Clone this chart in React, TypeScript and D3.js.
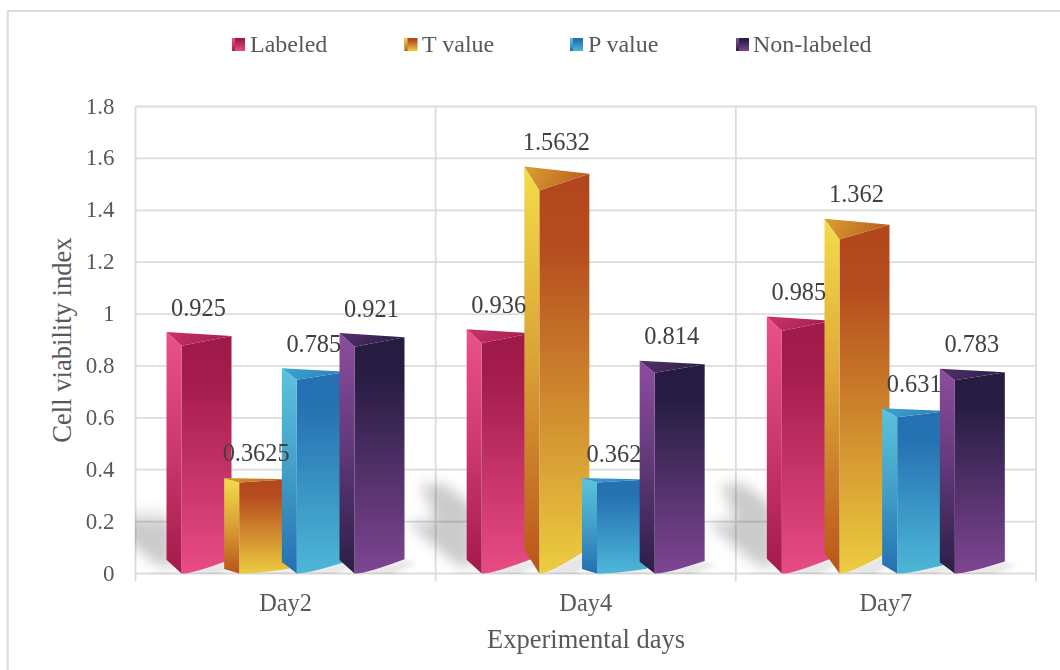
import React from "react";
import * as d3 from "d3";

// Chart values
const days = ["Day2", "Day4", "Day7"];
const seriesNames = ["Labeled", "T value", "P value", "Non-labeled"];
const labeled = [0.925, 0.936, 0.985];
const tValue = [0.3625, 1.5632, 1.362];
const pValue = [0.785, 0.362, 0.631];
const nonLabeled = [0.921, 0.814, 0.783];
const seriesValues = [labeled, tValue, pValue, nonLabeled];
const yTicks = [0, 0.2, 0.4, 0.6, 0.8, 1, 1.2, 1.4, 1.6, 1.8];

// Face shading per series
const palettes = [
  { front: ["#a01a49", "#a31c4b", "#e84c84"], side: ["#ea5289", "#a5194b"], top: ["#c8336c", "#a51f50"] },
  { front: ["#b2461d", "#b54c1f", "#eccd40"], side: ["#f3dd4a", "#b9541a"], top: ["#dca032", "#b8601f"] },
  { front: ["#2470b0", "#2672b2", "#4db7d8"], side: ["#5ac4dc", "#2570b0"], top: ["#3fa6d2", "#2a80bc"] },
  { front: ["#261c42", "#281e44", "#7f4592"], side: ["#8c4d9e", "#2a1e46"], top: ["#55306f", "#2c1f47"] },
];

const W = 1060;
const H = 670;
const plot = { left: 135.5, right: 1036, top: 106.5, bottom: 573.5 };
const barWidth = 65;
const topLift = 1.5;
const serif = "'Liberation Serif', 'Times New Roman', serif";

const x = d3.scaleBand<string>().domain(days).range([plot.left, plot.right]);
const seriesX = d3.scalePoint<string>().domain(seriesNames).range([31, 204]);
const y = d3.scaleLinear().domain([0, 1.8]).range([plot.bottom, plot.top]);
// Taller bars show more of their side and top under the perspective
const depth = d3.scaleLinear().domain([0.36, 1.5632]).range([4.5, 24]);

const polygon = d3.line<[number, number]>().curve(d3.curveLinearClosed);

function frontPath(x0: number, v: number) {
  const d = depth(v);
  const top = y(v) - topLift;
  const fx = x0 + 15;
  const p = d3.path();
  p.moveTo(fx, top + d);
  p.lineTo(x0 + barWidth, top + d * 0.3);
  p.lineTo(x0 + barWidth, plot.bottom - d * 1.05);
  p.quadraticCurveTo(fx + 9, plot.bottom + 1, fx, plot.bottom);
  p.closePath();
  return p.toString();
}

function Swatch({ cx, idx }: { cx: number; idx: number }) {
  return (
    <g>
      <rect x={cx} y={38} width={13} height={13} fill={`url(#front${idx})`} />
      <rect x={cx} y={38} width={3} height={13} fill={`url(#side${idx})`} />
    </g>
  );
}

const legendSwatchX = [232, 404.5, 570, 736];
const legendTextX = [250, 422, 588, 753];

export default function App() {
  const gridColor = "#dcdcdc";
  const starts = days.map((d) => x(d)! + seriesX(seriesNames[0])!);
  return (
    <svg
      width={W}
      height={H}
      viewBox={`0 0 ${W} ${H}`}
      style={{ position: "absolute", left: 0, top: 0, display: "block", background: "#fff" }}
    >
      <defs>
        {palettes.map((p, i) => (
          <React.Fragment key={i}>
            <linearGradient id={`front${i}`} x1="0" y1="0" x2="0" y2="1">
              <stop offset="0" stopColor={p.front[0]} />
              <stop offset="0.18" stopColor={p.front[1]} />
              <stop offset="1" stopColor={p.front[2]} />
            </linearGradient>
            <linearGradient id={`side${i}`} x1="0" y1="0" x2="0" y2="1">
              <stop offset="0" stopColor={p.side[0]} />
              <stop offset="0.45" stopColor={d3.interpolateRgb(p.side[0], p.side[1])(0.4)} />
              <stop offset="1" stopColor={p.side[1]} />
            </linearGradient>
            <linearGradient id={`top${i}`} x1="0" y1="0" x2="1" y2="0.2">
              <stop offset="0" stopColor={p.top[0]} />
              <stop offset="1" stopColor={p.top[1]} />
            </linearGradient>
          </React.Fragment>
        ))}
        <filter id="softShadow" x="-40%" y="-40%" width="180%" height="180%">
          <feGaussianBlur stdDeviation="6.5" />
        </filter>
        <filter id="floorShadow" x="-40%" y="-60%" width="180%" height="220%">
          <feGaussianBlur stdDeviation="2.5" />
        </filter>
        <clipPath id="plotClip">
          <rect x={plot.left} y={plot.top} width={plot.right - plot.left} height={plot.bottom - plot.top} />
        </clipPath>
      </defs>

      {/* Outer frame */}
      <path d={`M7.8 ${H}V11H${W}`} fill="none" stroke="#dcdcdc" strokeWidth={2} />

      {/* Grid */}
      {yTicks.map((t) => (
        <line key={t} x1={plot.left} x2={plot.right} y1={y(t)} y2={y(t)} stroke={gridColor} strokeWidth={1.8} />
      ))}
      {[...days.map((d) => x(d)!), plot.right].map((gx) => (
        <line key={gx} x1={gx} x2={gx} y1={plot.top} y2={plot.bottom + 8} stroke={gridColor} strokeWidth={1.8} />
      ))}

      {/* Cast shadows between the clusters */}
      <g clipPath="url(#plotClip)" style={{ mixBlendMode: "multiply" }}>
        {starts.map((s, i) => (
          <g key={i} filter="url(#softShadow)" fill="#cbcbcb">
            {i > 0 && (
              <path
                d={polygon([
                  [s - 46, 484],
                  [s - 22, 484],
                  [s + 6, 506],
                  [s + 6, 524],
                  [s - 30, 524],
                ])!}
              />
            )}
            {i === 0 && (
              <path
                d={polygon([
                  [s - 40, 512],
                  [s, 512],
                  [s + 6, 524],
                  [s - 40, 524],
                ])!}
                opacity={0.55}
              />
            )}
            <path
              d={polygon([
                [s - 60, 522],
                [s + 6, 522],
                [s + 6, 570],
                [s - 14, 562],
              ])!}
            />
          </g>
        ))}
        {starts.map((s, g) =>
          seriesValues.map((vals, i) => {
            const x0 = s + seriesX(seriesNames[i])! - seriesX(seriesNames[0])!;
            const d = depth(vals[g]);
            return (
              <path
                key={`${g}-${i}`}
                filter="url(#floorShadow)"
                fill="#e6e6e6"
                d={polygon([
                  [x0 + 15, plot.bottom],
                  [x0 + barWidth, plot.bottom - d],
                  [x0 + barWidth + 12, plot.bottom - d + 3],
                  [x0 + 50, plot.bottom + 2],
                ])!}
              />
            );
          })
        )}
      </g>

      {/* Bars */}
      {days.map((day, g) =>
        seriesNames.map((name, i) => {
          const v = seriesValues[i][g];
          const x0 = x(day)! + seriesX(name)!;
          const d = depth(v);
          const top = y(v) - topLift;
          return (
            <g key={`${day}-${name}`}>
              <path d={frontPath(x0, v)} fill={`url(#front${i})`} />
              <path
                d={polygon([
                  [x0, top],
                  [x0 + 15, top + d],
                  [x0 + 15, plot.bottom],
                  [x0, plot.bottom - d],
                ])!}
                fill={`url(#side${i})`}
              />
              <path
                d={polygon([
                  [x0, top],
                  [x0 + barWidth, top + d * 0.3],
                  [x0 + 15, top + d],
                ])!}
                fill={`url(#top${i})`}
              />
            </g>
          );
        })
      )}

      {/* Value labels */}
      <g fontFamily={serif} fontSize={24.4} fill="#404040" textAnchor="middle">
        {days.map((day, g) =>
          seriesNames.map((name, i) => {
            const v = seriesValues[i][g];
            return (
              <text key={`${day}-${name}`} x={x(day)! + seriesX(name)! + 32} y={y(v) - 18}>
                {v}
              </text>
            );
          })
        )}
      </g>

      {/* Y axis labels */}
      <g fontFamily={serif} fontSize={23} fill="#595959" textAnchor="end">
        {yTicks.map((t) => (
          <text key={t} x={114.5} y={y(t) + 7}>
            {d3.format("~g")(t)}
          </text>
        ))}
      </g>

      {/* X axis labels */}
      <g fontFamily={serif} fontSize={24.4} fill="#595959" textAnchor="middle">
        {days.map((d) => (
          <text key={d} x={x(d)! + x.bandwidth() / 2} y={611}>
            {d}
          </text>
        ))}
      </g>

      {/* Axis titles */}
      <text
        fontFamily={serif}
        fontSize={26.6}
        fill="#595959"
        textAnchor="middle"
        transform="translate(71 340) rotate(-90)"
      >
        Cell viability index
      </text>
      <text fontFamily={serif} fontSize={26.5} fill="#595959" textAnchor="middle" x={586} y={648}>
        Experimental days
      </text>

      {/* Legend */}
      {seriesNames.map((n, i) => (
        <g key={n}>
          <Swatch cx={legendSwatchX[i]} idx={i} />
          <text x={legendTextX[i]} y={52} fontFamily={serif} fontSize={24} fill="#595959">
            {n}
          </text>
        </g>
      ))}
    </svg>
  );
}
